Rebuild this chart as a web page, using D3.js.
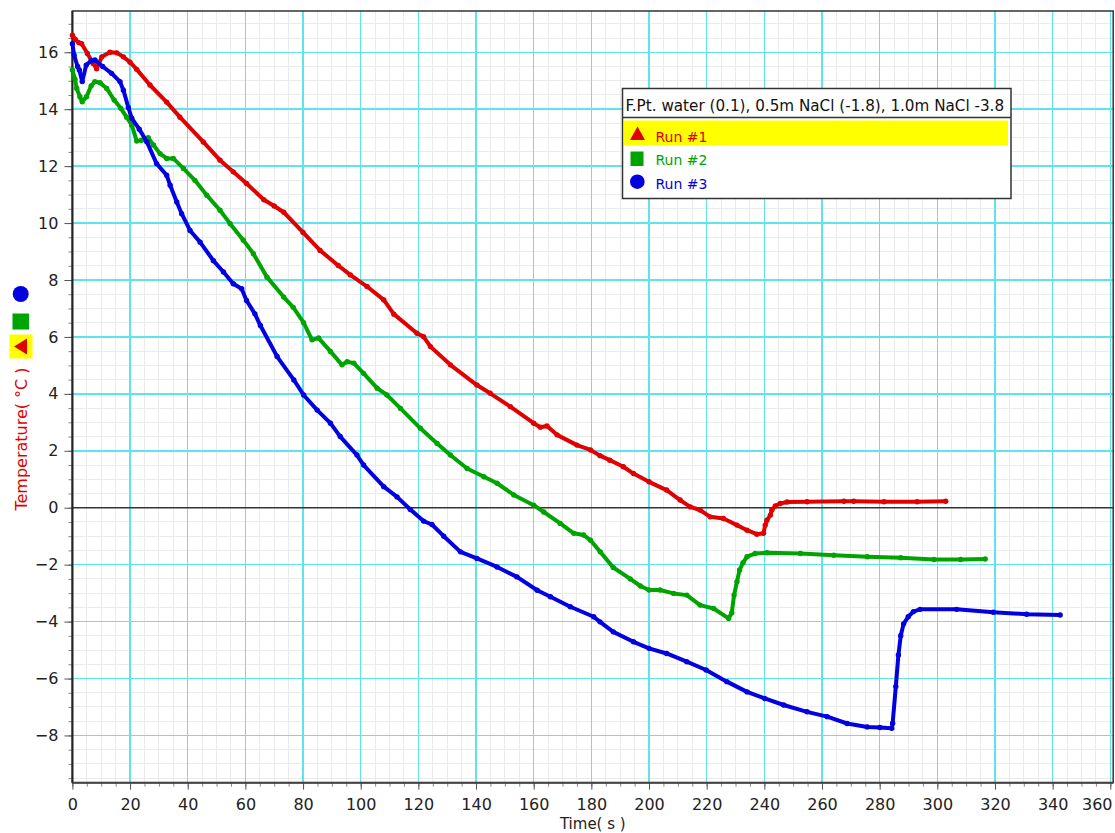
<!DOCTYPE html>
<html>
<head>
<meta charset="utf-8">
<script src="https://cdn.jsdelivr.net/npm/d3@7"></script>
<style>
  body { margin: 0; background: #fff; }
  text { font-family: "DejaVu Sans", sans-serif; }
</style>
</head>
<body>
<svg id="chart" width="1115" height="833"></svg>
<script>
// [time (s), temperature (°C)]
const run1 = [[0,16.6],[1,16.45],[2.2,16.34],[3.2,16.3],[5.2,15.96],[7.2,15.61],[8.4,15.42],[10.2,15.84],[13,16.0],[15.4,15.98],[17.7,15.84],[20,15.65],[22.3,15.4],[26.9,14.85],[32.7,14.25],[37.3,13.72],[45.4,12.85],[51.2,12.21],[55.8,11.8],[60.4,11.39],[66.4,10.82],[70,10.6],[73.3,10.38],[80,9.67],[85.9,9.04],[92.2,8.51],[96.4,8.18],[102.2,7.77],[108,7.3],[111.5,6.8],[119.5,6.13],[121.8,6.01],[124.2,5.66],[131.1,5.02],[140.3,4.31],[144.9,4.02],[151.9,3.55],[160,2.97],[162.3,2.83],[164.6,2.87],[168.1,2.56],[175,2.2],[179.7,2.03],[183,1.83],[186.4,1.67],[191.1,1.44],[194.6,1.2],[200,0.91],[206.1,0.62],[210.8,0.27],[214.3,0.03],[217.7,-0.08],[221.2,-0.32],[225.8,-0.38],[230.5,-0.61],[234,-0.79],[237.4,-0.93],[239.7,-0.9],[240.3,-0.61],[240.9,-0.44],[242.1,-0.26],[242.6,-0.08],[243.8,0.06],[245.5,0.15],[247.9,0.2],[254.8,0.21],[267.6,0.23],[271,0.23],[281.5,0.21],[293,0.21],[302.9,0.23]];

const run2 = [[0,15.38],[0.9,15.05],[1.5,14.73],[2.6,14.44],[3.4,14.26],[4.9,14.44],[6.5,14.82],[7.8,14.97],[9.6,14.93],[11.9,14.73],[14.5,14.32],[16.8,14.03],[18.8,13.72],[20.6,13.44],[22.3,12.88],[24,12.91],[26.3,13.0],[28.1,12.74],[30.4,12.44],[32.7,12.27],[35,12.27],[38.5,11.92],[42.5,11.5],[46.6,10.98],[51.2,10.45],[54.7,9.98],[59.3,9.4],[62.8,8.92],[67.5,8.1],[73.3,7.4],[76.6,7.04],[80.2,6.5],[83.1,5.9],[85.4,5.96],[89.5,5.49],[93.5,5.02],[95.3,5.13],[97.6,5.08],[101,4.72],[105.7,4.2],[109.1,3.96],[113.8,3.49],[120.7,2.79],[126.5,2.26],[131.1,1.85],[136.9,1.38],[142.7,1.09],[147.3,0.86],[153.1,0.45],[160,0.09],[163.5,-0.15],[169.2,-0.55],[173.9,-0.9],[177.3,-0.96],[179.7,-1.14],[183.1,-1.55],[187.6,-2.1],[193.5,-2.5],[197,-2.75],[200,-2.89],[203.8,-2.89],[208.5,-3.01],[213.1,-3.07],[217.7,-3.42],[222.4,-3.54],[227.6,-3.89],[228.7,-3.69],[229.5,-3.07],[230.5,-2.6],[231.4,-2.19],[232.6,-1.93],[234,-1.72],[236.8,-1.61],[240.9,-1.58],[252.5,-1.61],[264.1,-1.67],[275.7,-1.72],[287.3,-1.76],[298.8,-1.82],[308.1,-1.82],[316.6,-1.8]];

const run3 = [[0,16.3],[0.6,15.9],[1.8,15.5],[2.4,15.38],[3.4,14.97],[4.8,15.55],[6.5,15.7],[7.8,15.73],[10.5,15.5],[13.6,15.26],[16.5,14.97],[17.7,14.67],[19.4,14.06],[20.6,13.68],[23.2,13.3],[25.8,12.86],[29.2,12.09],[32.7,11.68],[33.9,11.33],[36.2,10.74],[37.9,10.33],[40.8,9.74],[44.3,9.33],[48.9,8.68],[52.4,8.28],[55.8,7.87],[58.7,7.69],[60.4,7.28],[63.3,6.81],[65.2,6.4],[71,5.31],[76.8,4.49],[80.2,3.96],[84.9,3.43],[89.5,2.97],[92.9,2.5],[98.7,1.85],[101,1.5],[108,0.74],[112.6,0.38],[117.2,-0.06],[121.8,-0.47],[124.7,-0.59],[128.8,-1.0],[134.6,-1.55],[140.3,-1.78],[147.3,-2.08],[154.2,-2.43],[161.2,-2.9],[165.8,-3.13],[172.7,-3.48],[180.8,-3.83],[183,-4.01],[187.6,-4.36],[194.6,-4.71],[200,-4.94],[206.1,-5.12],[213.1,-5.41],[219.8,-5.7],[227,-6.11],[234,-6.47],[240.1,-6.7],[246.7,-6.93],[254.8,-7.17],[261.8,-7.34],[268.7,-7.58],[275.7,-7.7],[280.1,-7.72],[284.2,-7.75],[284.5,-7.57],[285.6,-6.28],[286.5,-5.17],[287.3,-4.5],[288.3,-4.08],[289.9,-3.83],[291.7,-3.65],[294,-3.57],[306.7,-3.57],[319.4,-3.67],[331,-3.74],[342.6,-3.77]];

const runNames = ["Run #1", "Run #2", "Run #3"];
const runColors = ["#e00000", "#00a400", "#0000e0"];
const legendTitle = "F.Pt. water (0.1), 0.5m NaCl (-1.8), 1.0m NaCl -3.8";
const xTickValues = [0, 20, 40, 60, 80, 100, 120, 140, 160, 180, 200, 220, 240, 260, 280, 300, 320, 340, 360];
const yTickValues = [-8, -6, -4, -2, 0, 2, 4, 6, 8, 10, 12, 14, 16];

const svg = d3.select("#chart");

const x = d3.scaleLinear().domain([0, 361]).range([72.4, 1113.2]);
const y = d3.scaleLinear().domain([-9.66, 17.45]).range([782.7, 11]);

const plotLeft = x.range()[0], plotRight = x.range()[1];
const plotTop = y.range()[1], plotBottom = y.range()[0];

// minor grid (5 s / 0.5 °C), then cyan major grid
const xMinor = d3.range(0, 361, 5);
const yMinor = d3.range(-9.5, 17.5, 0.5);

const grid = svg.append("g").attr("shape-rendering", "crispEdges");
grid.selectAll(".vmin").data(xMinor).enter().append("line")
  .attr("x1", d => x(d)).attr("x2", d => x(d))
  .attr("y1", plotTop).attr("y2", plotBottom)
  .attr("stroke", "#ebebeb").attr("stroke-width", 1);
grid.selectAll(".hmin").data(yMinor).enter().append("line")
  .attr("x1", plotLeft).attr("x2", plotRight)
  .attr("y1", d => y(d)).attr("y2", d => y(d))
  .attr("stroke", "#ebebeb").attr("stroke-width", 1);
grid.selectAll(".vmaj").data(xTickValues).enter().append("line")
  .attr("x1", d => x(d)).attr("x2", d => x(d))
  .attr("y1", plotTop).attr("y2", plotBottom)
  .attr("stroke", "#5fe4ee").attr("stroke-width", 1.5);
grid.selectAll(".hmaj").data(yTickValues).enter().append("line")
  .attr("x1", plotLeft).attr("x2", plotRight)
  .attr("y1", d => y(d)).attr("y2", d => y(d))
  .attr("stroke", "#5fe4ee").attr("stroke-width", 1.5);

// zero line
svg.append("line")
  .attr("x1", plotLeft).attr("x2", plotRight)
  .attr("y1", y(0)).attr("y2", y(0))
  .attr("stroke", "#333").attr("stroke-width", 1.5);

// minor ticks
svg.append("g")
  .attr("transform", `translate(${plotLeft},0)`)
  .call(d3.axisLeft(y).tickValues(yMinor).tickSize(4).tickFormat(""))
  .call(g => g.select(".domain").remove())
  .selectAll("line").attr("stroke", "#888");
svg.append("g")
  .attr("transform", `translate(0,${plotBottom})`)
  .call(d3.axisBottom(x).tickValues(xMinor).tickSize(4).tickFormat(""))
  .call(g => g.select(".domain").remove())
  .selectAll("line").attr("stroke", "#888");

// major ticks + labels
const yAxis = svg.append("g")
  .attr("transform", `translate(${plotLeft},0)`)
  .call(d3.axisLeft(y).tickValues(yTickValues).tickSize(8).tickPadding(6))
  .call(g => g.select(".domain").remove());
yAxis.selectAll("line").attr("stroke", "#555");
yAxis.selectAll("text").attr("font-size", "16px").attr("fill", "#222")
  .style("font-family", "DejaVu Sans");

const xAxis = svg.append("g")
  .attr("transform", `translate(0,${plotBottom})`)
  .call(d3.axisBottom(x).tickValues(xTickValues).tickSize(7).tickPadding(9))
  .call(g => g.select(".domain").remove());
xAxis.selectAll("line").attr("stroke", "#555");
xAxis.selectAll("text").attr("font-size", "16px").attr("fill", "#222")
  .style("font-family", "DejaVu Sans");
// last label is pulled inside the window, as in the original
xAxis.selectAll(".tick").filter(d => d === 360).select("text")
  .attr("text-anchor", "end").attr("x", 1112 - x(360));

// plot frame
svg.append("rect")
  .attr("x", plotLeft).attr("y", plotTop)
  .attr("width", plotRight - plotLeft).attr("height", plotBottom - plotTop)
  .attr("fill", "none").attr("stroke", "#333").attr("stroke-width", 1.5);
svg.append("line").attr("x1", plotLeft).attr("x2", plotLeft).attr("y1", plotTop).attr("y2", plotBottom)
  .attr("stroke", "#222").attr("stroke-width", 2);
svg.append("line").attr("x1", plotLeft).attr("x2", plotRight).attr("y1", plotBottom).attr("y2", plotBottom)
  .attr("stroke", "#444").attr("stroke-width", 2);

// data runs
const line = d3.line().x(d => x(d[0])).y(d => y(d[1]));
const runs = [run1, run2, run3];

runs.forEach((run, i) => {
  svg.append("path")
    .datum(run)
    .attr("fill", "none")
    .attr("stroke", runColors[i])
    .attr("stroke-width", 4)
    .attr("stroke-linejoin", "round")
    .attr("stroke-linecap", "round")
    .attr("d", line);
  svg.append("g").selectAll("circle")
    .data(run).enter().append("circle")
    .attr("cx", d => x(d[0]))
    .attr("cy", d => y(d[1]))
    .attr("r", 2.7)
    .attr("fill", runColors[i]);
});

// axis titles
svg.append("text")
  .attr("x", (plotLeft + plotRight) / 2).attr("y", 829)
  .attr("text-anchor", "middle")
  .attr("font-size", "15px").attr("fill", "#222")
  .text("Time( s )");

svg.append("text")
  .attr("transform", "translate(27,439) rotate(-90)")
  .attr("text-anchor", "middle")
  .attr("font-size", "16px").attr("fill", "#e00000")
  .text("Temperature( °C )");

// run markers beside the y title
svg.append("circle").attr("cx", 20.7).attr("cy", 294).attr("r", 8).attr("fill", runColors[2]);
svg.append("rect").attr("x", 12.5).attr("y", 313.5).attr("width", 16.5).attr("height", 16).attr("fill", runColors[1]);
svg.append("rect").attr("x", 9.5).attr("y", 334.5).attr("width", 23).attr("height", 24).attr("fill", "#ffff00");
svg.append("path").attr("d", "M14,346.5L27,338.5L27,354.5Z").attr("fill", runColors[0]);

// legend
const lg = svg.append("g");
lg.append("rect")
  .attr("x", 622.5).attr("y", 88.5).attr("width", 388.5).attr("height", 110)
  .attr("fill", "#fff").attr("stroke", "#333").attr("stroke-width", 1.5);
lg.append("line").attr("x1", 622.5).attr("x2", 1011).attr("y1", 117.5).attr("y2", 117.5)
  .attr("stroke", "#333").attr("stroke-width", 1.5);
lg.append("text").attr("x", 625.5).attr("y", 110.5)
  .attr("font-size", "15.2px").attr("fill", "#111").text(legendTitle);
lg.append("rect").attr("x", 624).attr("y", 120.5).attr("width", 384).attr("height", 25)
  .attr("fill", "#ffff00");

const rowY = [141.5, 165, 188.5];
lg.append("path").attr("d", "M637.5,126.5L645,140L630,140Z").attr("fill", runColors[0]);
lg.append("rect").attr("x", 630.5).attr("y", 151.5).attr("width", 13).attr("height", 14.5).attr("fill", runColors[1]);
lg.append("circle").attr("cx", 637.3).attr("cy", 181.7).attr("r", 7.3).attr("fill", runColors[2]);
runNames.forEach((name, i) => {
  lg.append("text").attr("x", 655.5).attr("y", rowY[i])
    .attr("font-size", "14px").attr("fill", runColors[i]).text(name);
});
</script>
</body>
</html>
